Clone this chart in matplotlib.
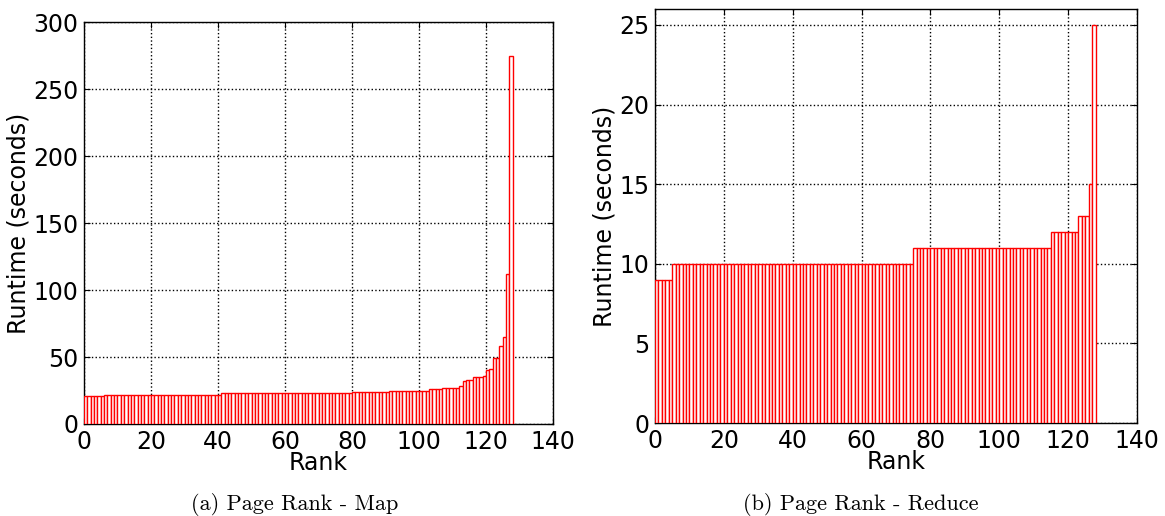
import matplotlib
matplotlib.use("Agg")
import matplotlib.pyplot as plt
import numpy as np

# per-task runtimes, sorted ascending (seconds)
map_runtimes = ([21] * 6 + [22] * 35 + [23] * 39 + [24] * 11 + [25] * 12
                + [26] * 4 + [27] * 5 + [28.5, 32, 33, 33, 35, 35, 35, 36,
                                         40, 41, 49, 49, 58, 65, 112, 275])
reduce_runtimes = ([9] * 5 + [10] * 70 + [11] * 40 + [12] * 8 + [13] * 3
                   + [15, 25])

map_yticks = [0, 50, 100, 150, 200, 250, 300]
reduce_yticks = [0, 5, 10, 15, 20, 25]
rank_ticks = [0, 20, 40, 60, 80, 100, 120, 140]

captions = ["(a) Page Rank - Map", "(b) Page Rank - Reduce"]


def draw_panel(ax, runtimes, yticks, ymax):
    ranks = np.arange(len(runtimes))
    ax.bar(ranks, runtimes, width=1.0, align="edge", color="white",
           edgecolor="red", linewidth=1.0, zorder=3)
    ax.set_xlim(0, 140)
    ax.set_ylim(0, ymax)
    ax.set_xticks(rank_ticks)
    ax.set_yticks(yticks)
    ax.grid(True, color="black", linestyle=":", linewidth=1.0, zorder=0)
    ax.set_axisbelow(True)
    ax.tick_params(direction="in", top=True, right=True, labelsize=17,
                   length=4, pad=4)
    ax.set_xlabel("Rank", fontsize=17, labelpad=-2)
    ax.set_ylabel("Runtime (seconds)", fontsize=17, labelpad=2)
    for s in ax.spines.values():
        s.set_linewidth(1.0)


fig = plt.figure(figsize=(11.65, 5.16), dpi=100)
ax1 = fig.add_axes([0.0721, 0.1783, 0.4026, 0.779])
ax2 = fig.add_axes([0.5622, 0.1802, 0.4137, 0.8023])

draw_panel(ax1, map_runtimes, map_yticks, 300)
draw_panel(ax2, reduce_runtimes, reduce_yticks, 26)

fig.text(0.253, 0.023, captions[0], ha="center", va="center",
         fontsize=16, family="cmr10")
fig.text(0.739, 0.023, captions[1], ha="center", va="center",
         fontsize=16, family="cmr10")

fig.savefig("out.png", dpi=100)
